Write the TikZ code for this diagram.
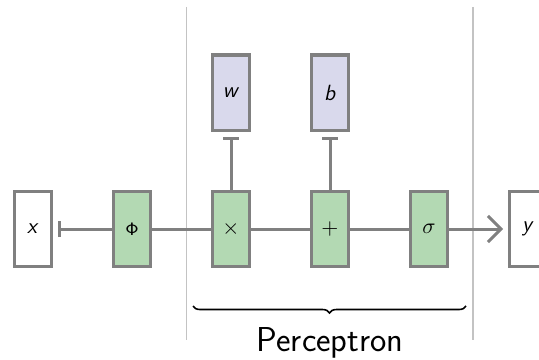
\documentclass[tikz,border=0pt]{standalone}
\usepackage{amsmath}
\usepackage{amssymb}
\usetikzlibrary{arrows.meta,decorations.pathreplacing}
\usetikzlibrary{positioning}

\definecolor{linegray}{RGB}{128,128,128}
\definecolor{sepgray}{RGB}{195,195,195}
\definecolor{opgreen}{RGB}{179,217,179}
\definecolor{parlilac}{RGB}{217,217,236}

\begin{document}
\begin{tikzpicture}[node distance=49.5pt,on grid,font=\sffamily\fontsize{11}{13}\selectfont,
	box/.style={draw=linegray,line width=1.5pt,minimum width=18.5pt,minimum height=37.5pt,inner sep=0pt},
	opbox/.style={box,fill=opgreen},
	parbox/.style={box,fill=parlilac}]
	\useasboundingbox (-16.5pt,114.5pt) rectangle (253pt,-65pt);
	% separators
	\draw[sepgray,line width=0.8pt] (76.75pt,111pt) -- (76.75pt,-55.5pt);
	\draw[sepgray,line width=0.8pt] (220pt,111pt) -- (220pt,-55.5pt);

	\node[box,fill=white] (X)                    {\textit{x}};
	\node[opbox]          (Phi) [right =of X]    {\small$\mathsf{\Phi}$};
	\node[opbox]          (Mul) [right =of Phi]  {$\times$};
	\node[opbox]          (Add) [right =of Mul]  {$+$};
	\node[opbox]          (Sig) [right =of Add]  {$\sigma$};
	\node[box,fill=white] (Y)   [right =of Sig]  {\textit{y}};
	\node[parbox]         (W)   [above =68.25pt of Mul] {\textit{w}};
	\node[parbox]         (B)   [above =68.25pt of Add] {\textit{b}};

	\tikzset{wire/.style={draw=linegray,line width=1.5pt}}
	\tikzset{stop/.style={wire,-{Bar[width=8pt,line width=1.5pt]},shorten >=2.5pt}}
	\path
	(Phi)   edge [stop]  (X)
	(Phi)   edge [wire]  (Mul)
	(Mul)   edge [wire]  (Add)
	(Add)   edge [wire]  (Sig)
	(Mul)   edge [stop]  (W)
	(Add)   edge [stop]  (B)
	(Sig)   edge [wire,-{Straight Barb[length=6.5pt,width=13pt,line width=1.5pt]},shorten >=2.5pt] (Y);

	\draw[decorate,decoration={brace,mirror,amplitude=3.5pt},line width=0.8pt]
		(80pt,-38.5pt) -- (216.5pt,-38.5pt);
	\node[font=\sffamily\LARGE] (Lbl) at (148.5pt,-57pt) {Perceptron};
\end{tikzpicture}
\end{document}
